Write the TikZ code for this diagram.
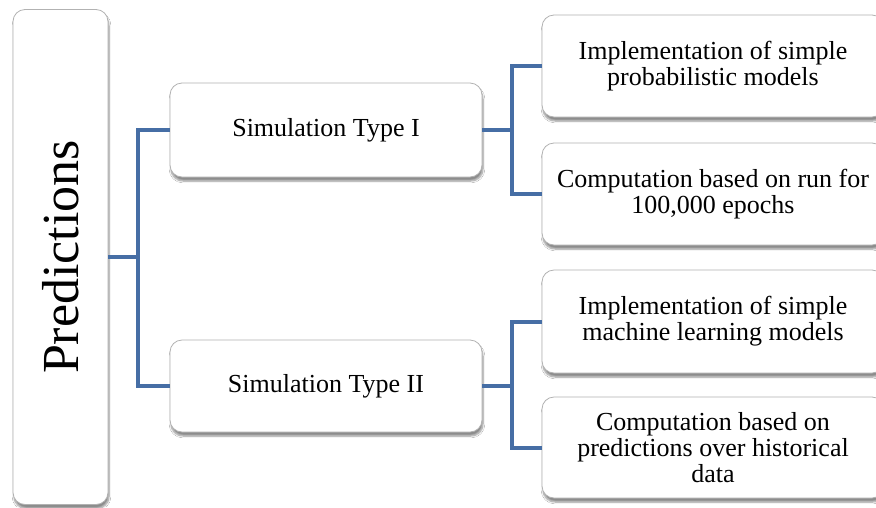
\documentclass[tikz,border=0pt]{standalone}
\usepackage{fontspec}
\setmainfont{Liberation Serif}
\usetikzlibrary{shadows.blur}

\definecolor{linkblue}{RGB}{70,110,165}

\begin{document}
\begin{tikzpicture}[x=1pt,y=-1pt,
  box/.style={draw=black!30, line width=0.8pt, fill=white, rounded corners=12pt,
    blur shadow={shadow xshift=1pt, shadow yshift=-4pt, shadow blur steps=6, shadow opacity=45},
    align=center, inner sep=0pt, font=\fontsize{26}{26}\selectfont},
  link/.style={draw=linkblue, line width=4pt}]

\clip (0,0) rectangle (876,507);
\fill[white] (0,0) rectangle (876,507);

% root
\node[box, minimum width=95, minimum height=495] (pred)
 at (60.5,257)  {\rotatebox{90}{\fontsize{52}{52}\selectfont Predictions}};

% simulations
\node[box, minimum width=312, minimum height=94] (sim1)
 at (326,130)  {Simulation Type I};
\node[box, minimum width=312, minimum height=92] (sim2)
 at (326,386)  {Simulation Type II};

% details
\node[box, minimum width=342, minimum height=102] (imp1)
 at (713,66)  {Implementation of simple\\probabilistic models};
\node[box, minimum width=342, minimum height=102] (comp1)
 at (713,194)  {Computation based on run for\\100,000 epochs};
\node[box, minimum width=342, minimum height=103] (imp2)
 at (713,321.5)  {Implementation of simple\\machine learning models};
\node[box, minimum width=342, minimum height=101] (comp2)
 at (713,447.5)  {Computation based on\\predictions over historical\\data};

\coordinate (j0) at (138,257);
\coordinate (j1) at (512,130);
\coordinate (j2) at (512,386);

\draw[link] (pred.east) -- (j0) |- (sim1.west);
\draw[link] (j0) |- (sim2.west);
\draw[link] (sim1.east) -- (j1) |- (imp1.west);
\draw[link] (j1) |- (comp1.west);
\draw[link] (sim2.east) -- (j2) |- (imp2.west);
\draw[link] (j2) |- (comp2.west);
\end{tikzpicture}
\end{document}
